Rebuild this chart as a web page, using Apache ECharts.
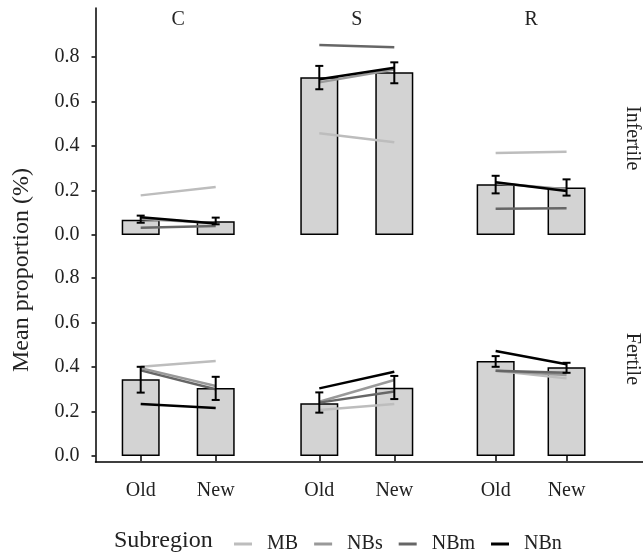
<!DOCTYPE html>
<html><head><meta charset="utf-8">
<script src="https://cdn.jsdelivr.net/npm/echarts@6/dist/echarts.min.js"></script>
<style>html,body{margin:0;padding:0;background:#fff}#chart{width:643px;height:552px}</style>
</head><body><div id="chart"></div>
<script>
// ---- data ----
const categories = ['Old', 'New'];
const regions = ['C', 'S', 'R'];
const fertility = ['Infertile', 'Fertile'];
const subregions = ['MB', 'NBs', 'NBm', 'NBn'];
const yTicks = [0, 0.2, 0.4, 0.6, 0.8];

// bar means, one pair [Old, New] per region C, S, R
const barInfertile = [[0.068, 0.062], [0.709, 0.731], [0.228, 0.213]];
const barFertile   = [[0.345, 0.306], [0.237, 0.307], [0.427, 0.399]];

// error bar limits
const errLowInfertile  = [[0.055, 0.048], [0.655, 0.682], [0.187, 0.177]];
const errHighInfertile = [[0.087, 0.078], [0.760, 0.776], [0.266, 0.250]];
const errLowFertile    = [[0.285, 0.252], [0.195, 0.256], [0.401, 0.374]];
const errHighFertile   = [[0.401, 0.356], [0.286, 0.360], [0.449, 0.419]];

// subregion lines, [Old, New] per region C, S, R
const lineMBInfertile  = [[0.178, 0.216], [0.457, 0.417], [0.369, 0.374]];
const lineNBsInfertile = [[0.072, 0.054], [0.686, 0.744], [0.232, 0.205]];
const lineNBmInfertile = [[0.033, 0.040], [0.854, 0.844], [0.118, 0.120]];
const lineNBnInfertile = [[0.080, 0.052], [0.700, 0.752], [0.237, 0.198]];
const lineMBFertile    = [[0.401, 0.427], [0.207, 0.234], [0.383, 0.349]];
const lineNBsFertile   = [[0.395, 0.315], [0.244, 0.342], [0.383, 0.364]];
const lineNBmFertile   = [[0.385, 0.300], [0.240, 0.290], [0.383, 0.374]];
const lineNBnFertile   = [[0.234, 0.216], [0.304, 0.379], [0.472, 0.412]];

// ---- styling / layout ----
const FONT = 'Liberation Serif';
const subColors = ['#bdbdbd', '#999999', '#666666', '#000000'];
const colLeft = [103.2, 281.8, 460.2];
const colWidth = 150;
const rowTop = [34.75, 255.75];
const rowHeight = [206.9, 206.3];
const rowMin = [-0.03, -0.027];
const rowMax = [0.9, 0.9];

const bars = [barInfertile, barFertile];
const errLow = [errLowInfertile, errLowFertile];
const errHigh = [errHighInfertile, errHighFertile];
const lines = [
  [lineMBInfertile, lineNBsInfertile, lineNBmInfertile, lineNBnInfertile],
  [lineMBFertile, lineNBsFertile, lineNBmFertile, lineNBnFertile]
];

const grid = [], xAxis = [], yAxis = [], series = [];
for (let r = 0; r < 2; r++) {
  for (let c = 0; c < 3; c++) {
    const gi = grid.length;
    grid.push({ left: colLeft[c], width: colWidth, top: rowTop[r], height: rowHeight[r] });
    const xa = {
      type: 'category', gridIndex: gi, data: categories,
      position: r === 0 ? 'top' : 'bottom',
      axisLine: { show: false },
      axisTick: { show: r === 1, alignWithLabel: true, length: 5, lineStyle: { color: '#000', width: 1.5 } },
      axisLabel: { show: r === 1, fontFamily: FONT, fontSize: 20, color: '#222', margin: 19 }
    };
    if (r === 0) {
      xa.name = regions[c]; xa.nameLocation = 'middle'; xa.nameGap = 5;
      xa.nameTextStyle = { fontFamily: FONT, fontSize: 20, color: '#222', verticalAlign: 'bottom' };
    }
    xAxis.push(xa);
    const ya = {
      type: 'value', gridIndex: gi, min: rowMin[r], max: rowMax[r],
      splitLine: { show: false }, axisLine: { show: false },
      axisTick: { show: false }, axisLabel: { show: false }
    };
    if (c === 0) {
      ya.offset = 7.7;
      ya.axisTick = { show: true, length: 4, customValues: yTicks, lineStyle: { color: '#000', width: 1.5 } };
      ya.axisLabel = { show: true, customValues: yTicks, formatter: v => v.toFixed(1),
        fontFamily: FONT, fontSize: 20, color: '#222', margin: 16 };
    }
    if (c === 2) {
      ya.position = 'right';
      ya.name = fertility[r]; ya.nameLocation = 'middle'; ya.nameRotate = -90; ya.nameGap = 20;
      ya.nameTextStyle = { fontFamily: FONT, fontSize: 20, color: '#222' };
    }
    yAxis.push(ya);

    series.push({
      type: 'bar', xAxisIndex: gi, yAxisIndex: gi, data: bars[r][c], barWidth: 38, z: 2,
      itemStyle: { color: '#d3d3d3', borderColor: '#000', borderWidth: 1.5 }, silent: true
    });
    subregions.forEach((s, si) => {
      series.push({
        type: 'line', name: s, xAxisIndex: gi, yAxisIndex: gi, data: lines[r][si][c],
        showSymbol: false, symbol: 'none', z: 3, color: subColors[si],
        lineStyle: { color: subColors[si], width: 2.5 }
      });
    });
    series.push({
      type: 'custom', xAxisIndex: gi, yAxisIndex: gi, z: 4, silent: true,
      data: categories.map((cat, k) => [k, errLow[r][c][k], errHigh[r][c][k]]),
      encode: { x: 0, y: [1, 2] },
      renderItem: (params, api) => {
        const k = api.value(0);
        const p1 = api.coord([k, api.value(1)]);
        const p2 = api.coord([k, api.value(2)]);
        const hw = 4, st = { stroke: '#000', lineWidth: 2 };
        return { type: 'group', children: [
          { type: 'line', shape: { x1: p1[0], y1: p1[1], x2: p2[0], y2: p2[1] }, style: st },
          { type: 'line', shape: { x1: p1[0] - hw, y1: p1[1], x2: p1[0] + hw, y2: p1[1] }, style: st },
          { type: 'line', shape: { x1: p2[0] - hw, y1: p2[1], x2: p2[0] + hw, y2: p2[1] }, style: st }
        ]};
      }
    });
  }
}
// frame grid drawing the continuous axis lines
const fi = grid.length;
grid.push({ left: 95.5, right: 0, top: 8, bottom: 90 });
xAxis.push({ type: 'value', gridIndex: fi, min: 0, max: 1, axisLine: { show: true, onZero: false, lineStyle: { color: '#000', width: 1.5 } },
  axisTick: { show: false }, axisLabel: { show: false }, splitLine: { show: false } });
yAxis.push({ type: 'value', gridIndex: fi, min: 0, max: 1, axisLine: { show: true, onZero: false, lineStyle: { color: '#000', width: 1.5 } },
  axisTick: { show: false }, axisLabel: { show: false }, splitLine: { show: false } });

const chart = echarts.init(document.getElementById('chart'), null, { renderer: 'canvas' });
chart.setOption({
  animation: false,
  backgroundColor: '#fff',
  title: [{ text: 'Subregion', left: 109, top: 524, textStyle: { fontFamily: FONT, fontSize: 24, fontWeight: 'normal', color: '#222' } }],
  legend: {
    data: subregions, left: 229, top: 529, icon: 'rect', itemWidth: 18, itemHeight: 3, itemGap: 16,
    textStyle: { fontFamily: FONT, fontSize: 20, color: '#222', padding: [0, 0, 0, 10] }
  },
  graphic: [{ type: 'text', x: 22, y: 270, rotation: Math.PI / 2,
    style: { text: 'Mean proportion (%)', fontFamily: FONT, fontSize: 24, fill: '#222', align: 'center', verticalAlign: 'middle' } }],
  grid, xAxis, yAxis, series
});
</script></body></html>
